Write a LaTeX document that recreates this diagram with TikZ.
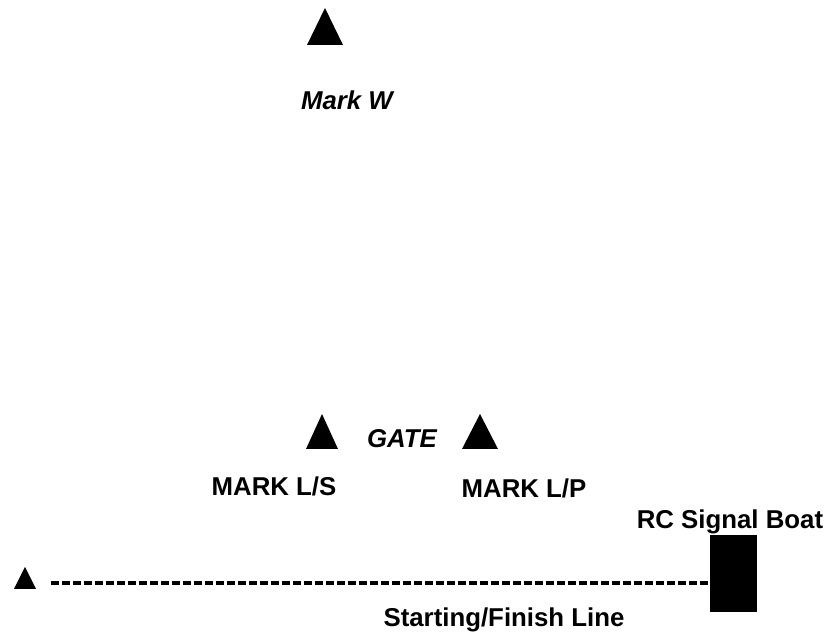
\documentclass[tikz,border=0pt]{standalone}
\usepackage{fontspec}
\setmainfont{Liberation Sans}
\usepackage{tikz}
\usetikzlibrary{calc,positioning}

\tikzset{
  lbl/.style={inner sep=0pt, anchor=base, font=\fontsize{12.9}{15}\selectfont\bfseries},
  ilbl/.style={lbl, font=\fontsize{12.9}{15}\selectfont\bfseries\itshape},
  startline/.style={line width=1.75pt, dash pattern=on 4pt off 1.5pt},
}

\begin{document}
\begin{tikzpicture}[x=0.5pt, y=-0.5pt]
  \useasboundingbox (0,0) rectangle (832,635);
  % marks (base centre of each triangle)
  \coordinate (markW) at (325,45);
  \coordinate (markLS) at (322,449);
  \coordinate (markLP) at (480,449);
  \coordinate (pin) at (25,589);
  \fill (markW) ++(-18,0) -- ++(36,0) -- ++(-18,-37) -- cycle;
  \fill (markLS) ++(-16,0) -- ++(32,0) -- ++(-16,-35) -- cycle;
  \fill (markLP) ++(-18,0) -- ++(36,0) -- ++(-18,-35) -- cycle;
  \fill (pin) ++(-11,0) -- ++(22,0) -- ++(-11,-22) -- cycle;
  \node[ilbl] (markWlbl) at (347,110) {Mark W};
  \node[ilbl] (gate) at (402,448) {GATE};
  \node[lbl] (lslbl) at (274,496) {MARK L/S};
  \node[lbl] (lplbl) at (524,498) {MARK L/P};
  % committee boat and line
  \node[fill=black, minimum width=23.5pt, minimum height=38.5pt, inner sep=0pt] (boat) at (733,573.5) {};
  \node[lbl] (boatlbl) at (730,529) {RC Signal Boat};
  \coordinate (linestart) at (51,583);
  \draw[startline] (linestart) -- (linestart -| boat.west);
  \node[lbl] (linelbl) at (504,627) {Starting/Finish Line};
\end{tikzpicture}
\end{document}
